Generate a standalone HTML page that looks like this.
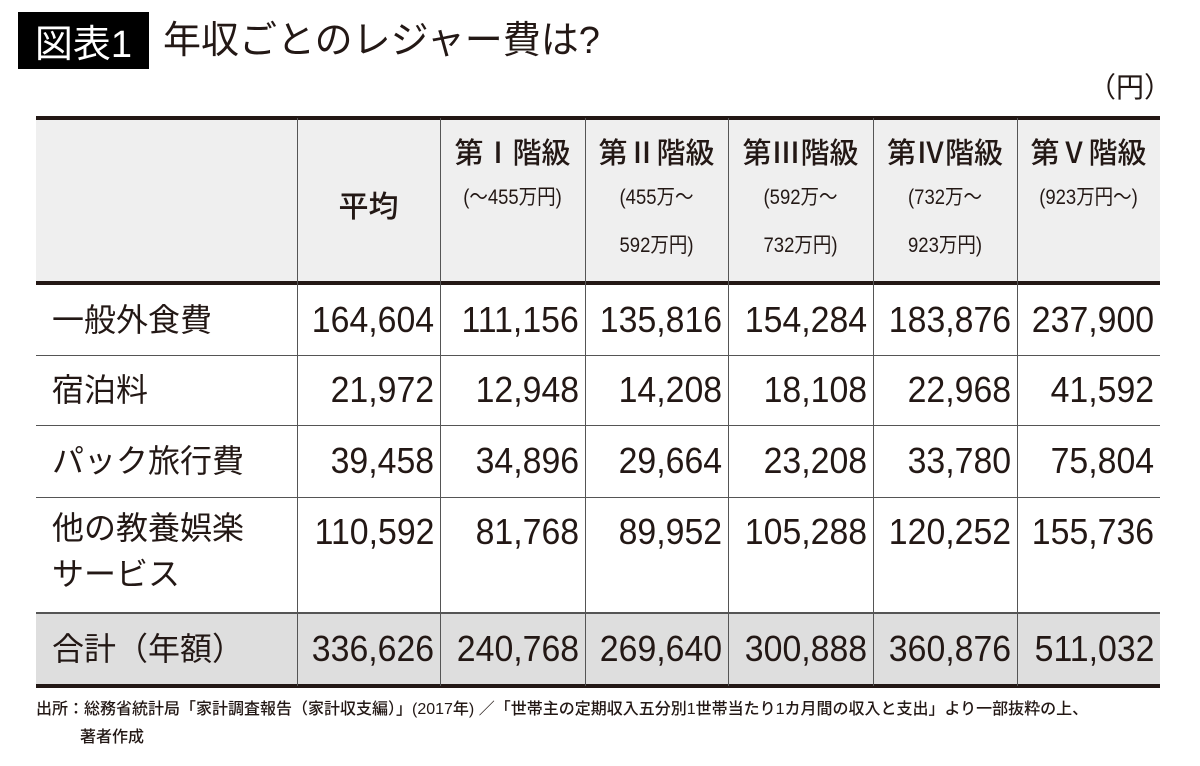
<!DOCTYPE html>
<html><head><meta charset="utf-8"><style>
body{margin:0;width:1200px;height:766px;background:#fff;position:relative;overflow:hidden;font-family:"Liberation Sans","Noto Sans CJK JP",sans-serif;color:#231815}
.a{position:absolute}
.h{position:absolute;background:#555}
.cell{position:absolute;display:flex;align-items:center;justify-content:flex-end;padding-right:6px;box-sizing:border-box;font-size:36px}
.cell span{display:inline-block;transform:scaleX(0.94);transform-origin:right center}
.lab{position:absolute;left:52px;font-size:32px;display:flex;align-items:center;line-height:46px}
.hd{position:absolute;text-align:center;top:134px}
.hd b{display:block;font-size:29px;font-weight:500;line-height:40px}
.hd span{display:block;font-size:21px;line-height:48px;transform:scaleX(0.88)}
</style></head><body>
<div class="a" style="left:18px;top:12px;width:131px;height:57px;background:#000;color:#fff;font-size:38px;display:flex;align-items:center;justify-content:center">図表1</div>
<div class="a" style="left:163px;top:14px;font-size:38px;line-height:54px">年収ごとのレジャー費は?</div>
<div class="a" style="left:1088px;top:68px;font-size:28px;line-height:40px">（円）</div>

<div class="a" style="left:36px;top:117px;width:1124px;height:166px;background:#efefef"></div>
<div class="a" style="left:36px;top:613px;width:1124px;height:72px;background:#dedede"></div>

<div class="h" style="left:36px;top:116px;width:1124px;height:4px;background:#231815"></div>
<div class="h" style="left:36px;top:281px;width:1124px;height:4px;background:#231815"></div>
<div class="h" style="left:36px;top:355px;width:1124px;height:1px"></div>
<div class="h" style="left:36px;top:425px;width:1124px;height:1px"></div>
<div class="h" style="left:36px;top:497px;width:1124px;height:1px"></div>
<div class="h" style="left:36px;top:612px;width:1124px;height:2px"></div>
<div class="h" style="left:36px;top:684px;width:1124px;height:4px;background:#231815"></div>
<div class="h" style="left:297px;top:118px;width:1px;height:568px"></div>
<div class="h" style="left:440px;top:118px;width:1px;height:568px"></div>
<div class="h" style="left:585px;top:118px;width:1px;height:568px"></div>
<div class="h" style="left:728px;top:118px;width:1px;height:568px"></div>
<div class="h" style="left:873px;top:118px;width:1px;height:568px"></div>
<div class="h" style="left:1017px;top:118px;width:1px;height:568px"></div>

<div class="a" style="left:297px;top:182px;width:143px;text-align:center;font-size:30px;font-weight:500">平均</div>
<div class="hd" style="left:440px;width:145px"><b>第Ⅰ階級</b><span>(～455万円)</span></div>
<div class="hd" style="left:585px;width:143px"><b>第Ⅱ階級</b><span>(455万～<br>592万円)</span></div>
<div class="hd" style="left:728px;width:145px"><b>第Ⅲ階級</b><span>(592万～<br>732万円)</span></div>
<div class="hd" style="left:873px;width:144px"><b>第Ⅳ階級</b><span>(732万～<br>923万円)</span></div>
<div class="hd" style="left:1017px;width:143px"><b>第Ⅴ階級</b><span>(923万円～)</span></div>

<div id="rows"></div>

<div class="a" style="left:36px;top:696px;font-size:16px;line-height:28px;font-weight:500">出所：総務省統計局「家計調査報告（家計収支編）」(2017年) ／「世帯主の定期収入五分別1世帯当たり1カ月間の収入と支出」より一部抜粋の上、<br><span style="padding-left:44px">著者作成</span></div>
<script>
const labels=["一般外食費","宿泊料","パック旅行費","他の教養娯楽<br>サービス","合計（年額）"];
const avg=["164,604","21,972","39,458","110,592","336,626"];
const c1=["111,156","12,948","34,896","81,768","240,768"];
const c2=["135,816","14,208","29,664","89,952","269,640"];
const c3=["154,284","18,108","23,208","105,288","300,888"];
const c4=["183,876","22,968","33,780","120,252","360,876"];
const c5=["237,900","41,592","75,804","155,736","511,032"];
const rowTop=[284,355,425,497,613];
const rowH=[71,70,72,115,72];
const colX=[297,440,585,728,873,1017,1160];
const cols=[avg,c1,c2,c3,c4,c5];
const root=document.getElementById('rows');
labels.forEach((l,i)=>{
  const d=document.createElement('div');
  d.className='lab';
  
  
  d.style.top=rowTop[i]+'px';d.style.height=(i==3?rowH[i]-8:rowH[i])+'px';
  d.innerHTML=l;root.appendChild(d);
  cols.forEach((c,j)=>{
    const e=document.createElement('div');
    e.className='cell';
    
    
    e.style.left=colX[j]+'px';e.style.width=(colX[j+1]-colX[j])+'px';
    e.style.top=rowTop[i]+'px';
    e.style.height=(i==3?70:rowH[i])+'px';
    const s=document.createElement('span');
    s.textContent=c[i];e.appendChild(s);root.appendChild(e);
  });
});
</script>
</body></html>
